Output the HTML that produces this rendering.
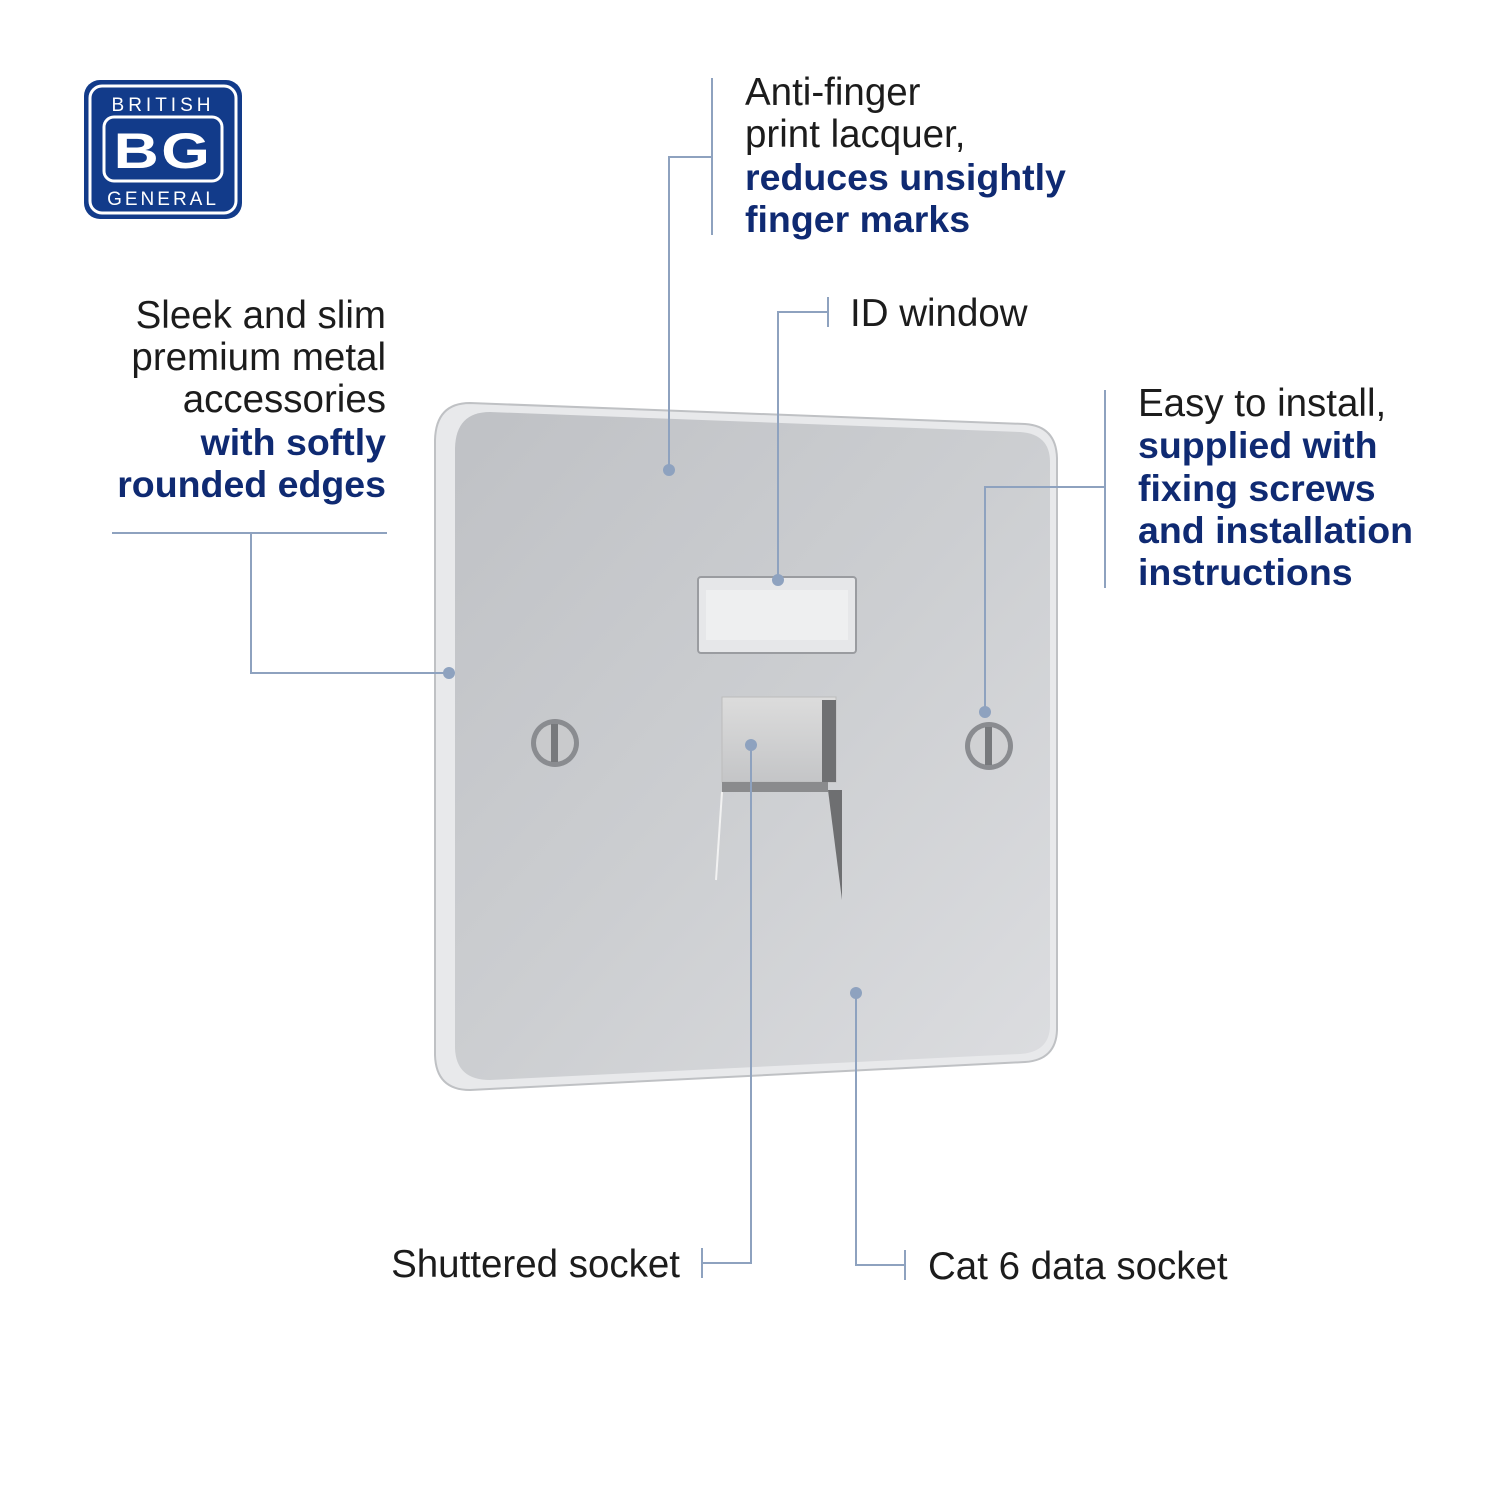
<!DOCTYPE html>
<html><head><meta charset="utf-8"><style>
html,body{margin:0;padding:0;background:#fff}
svg{display:block}
text{font-family:"Liberation Sans",sans-serif;font-size:38.5px;fill:#1c1c1c}
.b{fill:#0f2a72;font-weight:bold;font-size:37.5px}
</style></head><body>
<svg width="1500" height="1500" viewBox="0 0 1500 1500" xmlns="http://www.w3.org/2000/svg">
<defs>
<linearGradient id="pl" x1="0" y1="0" x2="1" y2="1">
<stop offset="0" stop-color="#bfc1c5"/><stop offset="0.5" stop-color="#ccced1"/><stop offset="1" stop-color="#dcdde0"/>
</linearGradient>
<linearGradient id="sk" x1="0" y1="0" x2="0" y2="1">
<stop offset="0" stop-color="#dcdcdc"/><stop offset="1" stop-color="#c4c5c7"/>
</linearGradient>
</defs>
<rect width="1500" height="1500" fill="#fff"/>
<!-- logo -->
<rect x="84" y="80" width="158" height="139" rx="16" fill="#123b8a"/>
<rect x="90" y="86" width="146" height="127" rx="12" fill="none" stroke="#fff" stroke-width="3"/>
<rect x="104" y="117" width="118" height="64" rx="10" fill="none" stroke="#fff" stroke-width="3"/>
<text x="163" y="111" text-anchor="middle" style="font-size:19px;fill:#fff;letter-spacing:4px">BRITISH</text>
<text x="163" y="168" text-anchor="middle" style="font-size:50px;fill:#fff;font-weight:bold;letter-spacing:2px" transform="translate(163 0) scale(1.25 1) translate(-163 0)">BG</text>
<text x="163" y="205" text-anchor="middle" style="font-size:19px;fill:#fff;letter-spacing:3px">GENERAL</text>
<!-- plate -->
<path d="M470,403 L1025,424 Q1056,426 1057,458 L1057,1030 Q1056,1060 1025,1062 L470,1090 Q436,1090 435,1055 L435,440 Q436,403 470,403 Z" fill="#e8e9eb" stroke="#bfc1c4" stroke-width="2"/>
<path d="M490,412 L1020,432 Q1050,434 1050,462 L1050,1025 Q1050,1052 1020,1054 L490,1080 Q456,1080 455,1048 L455,448 Q456,412 490,412 Z" fill="url(#pl)"/>
<!-- id window -->
<rect x="698" y="577" width="158" height="76" rx="3" fill="#e6e7e9" stroke="#9a9ca0" stroke-width="2"/>
<rect x="706" y="590" width="142" height="50" fill="#eeeff0"/>
<!-- socket -->
<path d="M722,697 L836,697 L836,782 L722,782 Z" fill="url(#sk)" stroke="#bcbcbc"/>
<rect x="822" y="700" width="14" height="82" fill="#6f7072"/>
<rect x="722" y="782" width="106" height="10" fill="#8a8b8d"/>
<path d="M828,790 L842,790 L842,900 Z" fill="#6e6f71"/>
<path d="M722,792 L716,880" stroke="#f2f2f2" stroke-width="2"/>
<!-- screws -->
<circle cx="555" cy="743" r="24" fill="#8a8c90"/><circle cx="555" cy="743" r="19" fill="#c9cacc"/><rect x="551" y="724" width="7" height="38" fill="#77797c"/>
<circle cx="989" cy="746" r="24" fill="#8a8c90"/><circle cx="989" cy="746" r="19" fill="#d0d1d3"/><rect x="985" y="727" width="7" height="38" fill="#77797c"/>
<!-- connectors -->
<g stroke="#8ea2bf" stroke-width="2" fill="none">
<path d="M712,78 V235 M712,157 H669 V470"/>
<path d="M828,297 V327 M828,312 H778 V580"/>
<path d="M112,533 H387 M251,533 V673 H449"/>
<path d="M1105,390 V588 M1105,487 H985 V712"/>
<path d="M751,745 V1263 H702 M702,1248 V1278"/>
<path d="M856,993 V1265 H905 M905,1250 V1280"/>
</g>
<g fill="#8ea2bf">
<circle cx="669" cy="470" r="6"/><circle cx="778" cy="580" r="6"/><circle cx="449" cy="673" r="6"/>
<circle cx="985" cy="712" r="6"/><circle cx="751" cy="745" r="6"/><circle cx="856" cy="993" r="6"/>
</g>
<!-- text -->
<text x="745" y="105">Anti-finger</text>
<text x="745" y="147">print lacquer,</text>
<text class="b" x="745" y="190">reduces unsightly</text>
<text class="b" x="745" y="232">finger marks</text>
<text x="850" y="326">ID window</text>
<g text-anchor="end">
<text x="386" y="328">Sleek and slim</text>
<text x="386" y="370">premium metal</text>
<text x="386" y="412">accessories</text>
<text class="b" x="386" y="455">with softly</text>
<text class="b" x="386" y="497">rounded edges</text>
<text x="680" y="1277">Shuttered socket</text>
</g>
<text x="1138" y="416">Easy to install,</text>
<text class="b" x="1138" y="458">supplied with</text>
<text class="b" x="1138" y="501">fixing screws</text>
<text class="b" x="1138" y="543">and installation</text>
<text class="b" x="1138" y="585">instructions</text>
<text x="928" y="1279">Cat 6 data socket</text>
</svg>
</body></html>
